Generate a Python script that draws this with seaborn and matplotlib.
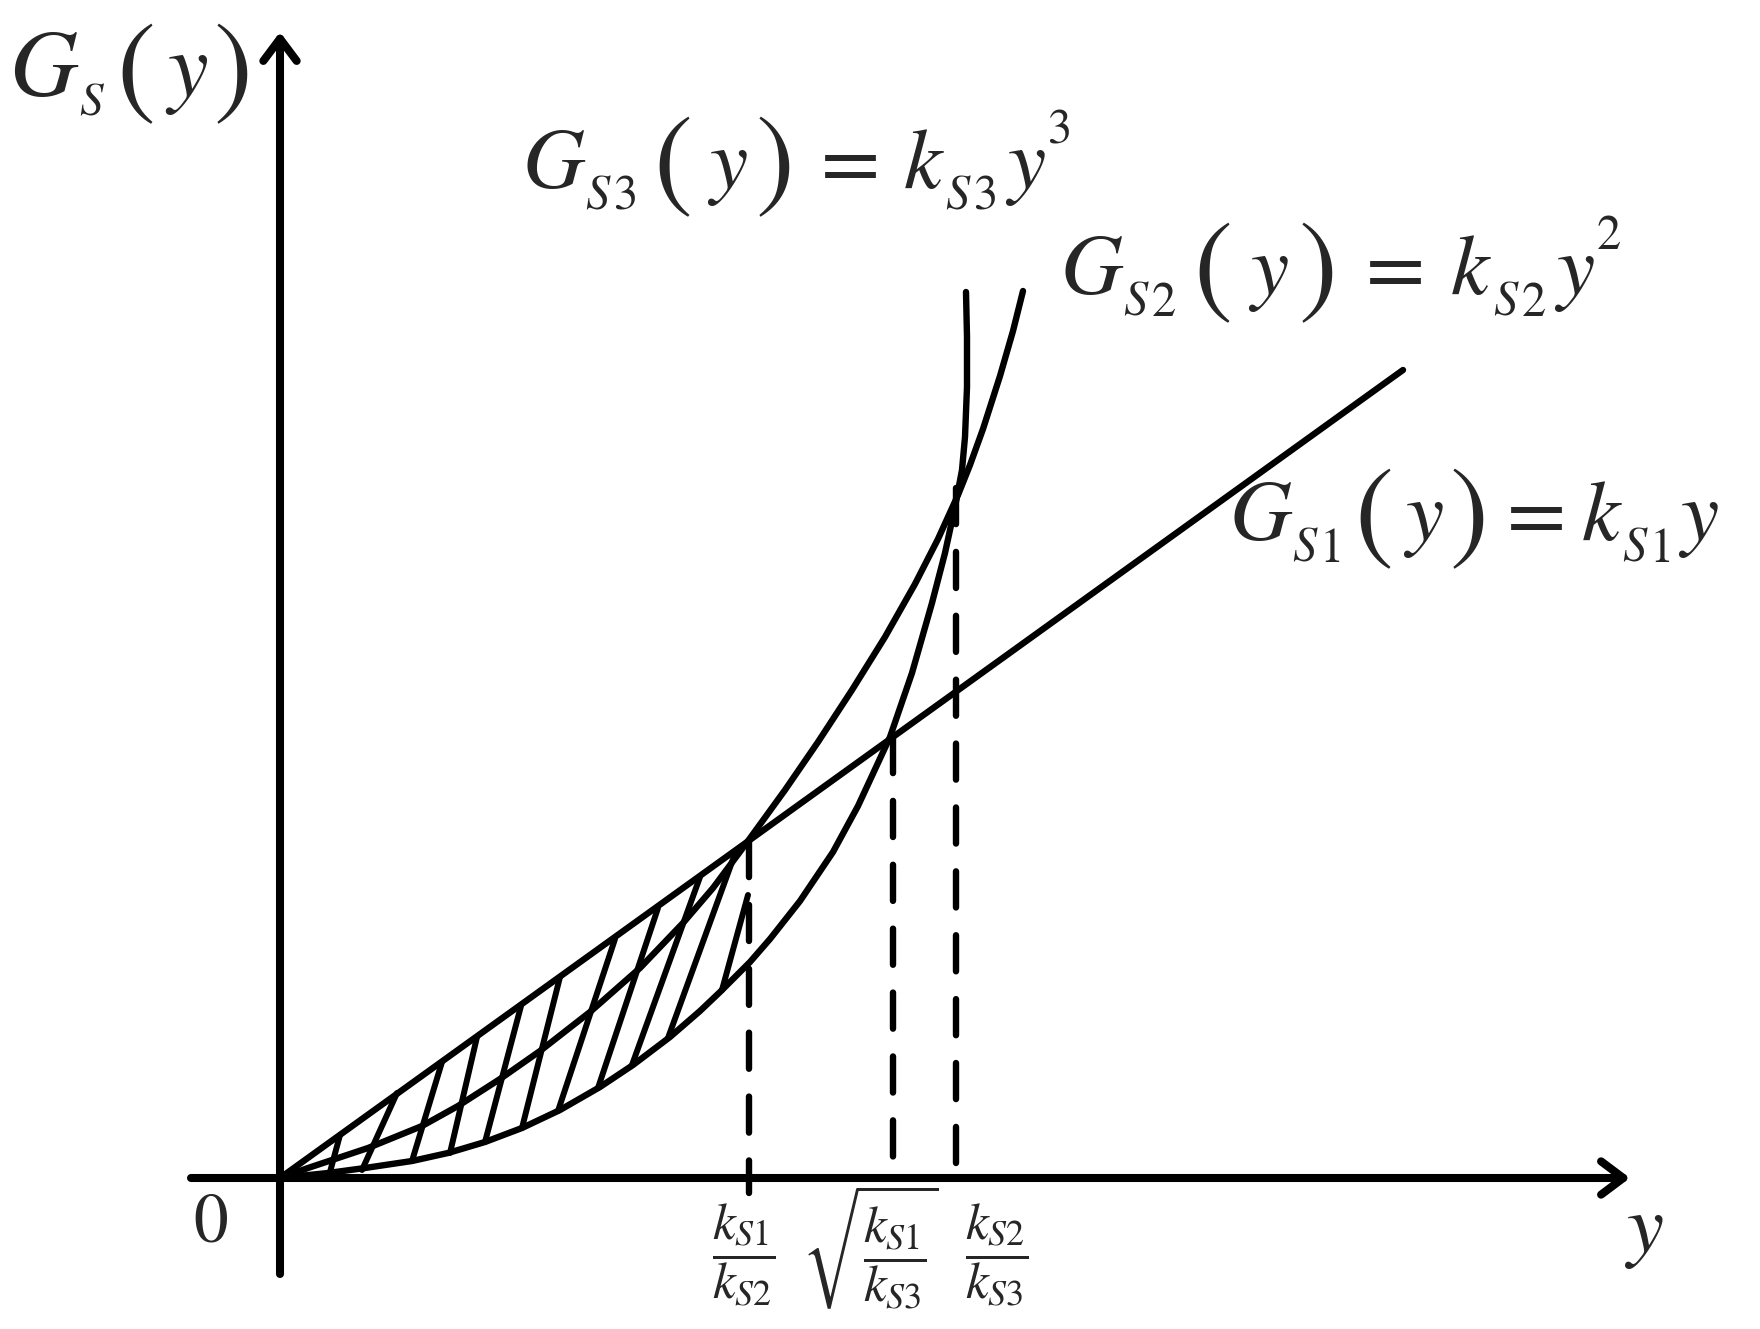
import numpy as np
import pandas as pd
import matplotlib
matplotlib.use("Agg")
import matplotlib.pyplot as plt
import seaborn as sns

# values, in diagram units (origin = 0, G up, y right)
line_x = [0.0, 11.23]
line_g = [0.0, 8.08]

quad_x = [0.0, 0.28, 0.55, 0.88, 1.42, 1.78, 2.20, 2.60, 3.10, 3.60, 4.03, 4.33,
          4.68, 5.05, 5.38, 5.72, 6.05, 6.35, 6.58, 6.78, 6.90, 7.03, 7.20, 7.33, 7.43]
quad_g = [0.0, 0.10, 0.19, 0.30, 0.52, 0.72, 0.99, 1.27, 1.66, 2.10, 2.55, 2.90,
          3.37, 3.88, 4.36, 4.88, 5.41, 5.94, 6.39, 6.83, 7.13, 7.49, 8.02, 8.47, 8.87]

cubic_x = [0.0, 0.48, 0.85, 1.32, 1.68, 2.05, 2.42, 2.80, 3.20, 3.53, 3.90, 4.20, 4.40,
           4.70, 4.90, 5.20, 5.53, 5.78, 6.10, 6.32, 6.52, 6.65, 6.75, 6.82, 6.85, 6.87,
           6.87, 6.86]
cubic_g = [0.0, 0.05, 0.10, 0.17, 0.25, 0.36, 0.50, 0.68, 0.91, 1.13, 1.41, 1.67, 1.86,
           2.16, 2.39, 2.77, 3.26, 3.72, 4.41, 5.05, 5.75, 6.25, 6.71, 7.08, 7.41, 7.91,
           8.41, 8.86]

# hatch strokes: from the cubic up to the straight line
hatch_x0 = [0.50, 0.82, 1.32, 1.70, 2.05, 2.42, 2.78, 3.18, 3.52, 3.88, 4.42]
hatch_g0 = [0.06, 0.08, 0.17, 0.25, 0.36, 0.50, 0.67, 0.90, 1.13, 1.40, 1.88]
hatch_x1 = [0.60, 1.17, 1.62, 1.97, 2.41, 2.80, 3.35, 3.78, 4.20, 4.56, 4.68]
hatch_g1 = [0.43, 0.85, 1.16, 1.41, 1.72, 2.01, 2.39, 2.70, 3.01, 3.27, 2.83]

# crossing points and their labels
cross_x = [4.69, 6.13, 6.76]
cross_top = [3.37, 4.41, 6.90]
cross_bottom = [-0.15, 0.16, 0.07]
cross_labels = [r"$\dfrac{k_{S1}}{k_{S2}}$",
                r"$\sqrt{\dfrac{k_{S1}}{k_{S3}}}$",
                r"$\dfrac{k_{S2}}{k_{S3}}$"]
cross_label_x = [4.64, 5.90, 7.17]
cross_label_y = [-0.77, -0.70, -0.77]


# label pieces: (text, size pt, rise px, gap before px, style)
def curve_label(n, power, tight=1.0):
    p = [("G", 62, 0, 0, "italic"), ("S", 35, -22, 0, "italic"), (n, 35, -22, 4, "normal"),
         ("(", 84, -8, 16, "normal"), ("y", 62, 0, 16, "italic"), (")", 84, -8, 9, "normal"),
         ("=", 62, 0, 26, "normal"), ("k", 62, 0, 24, "italic"), ("S", 35, -22, 3, "italic"),
         (n, 35, -22, 4, "normal"), ("y", 62, 0, 9, "italic")]
    if power:
        p.append((power, 35, 45, 2, "normal"))
    return [(t, s, r, g * tight, st) for t, s, r, g, st in p]


curve_labels = [curve_label("3", "3"), curve_label("2", "2", 1.1), curve_label("1", "", 0.7)]
curve_label_x = [2.43, 7.81, 9.50]
curve_label_y = [9.90, 8.84, 6.38]
axis_label = [("G", 68, 0, 0, "italic"), ("S", 34, -20, 2, "italic"),
              ("(", 84, -7, 14, "normal"), ("y", 66, 0, 11, "italic"),
              (")", 84, -7, 6, "normal")]

sns.set_style("white")
plt.rcParams["mathtext.fontset"] = "stix"
plt.rcParams["font.family"] = ["STIXGeneral", "DejaVu Serif"]
plt.rcParams["lines.scale_dashes"] = False

fig = plt.figure(figsize=(17.6, 13.29), dpi=100)
ax = fig.add_axes([0, 0, 1, 1])
ax.set_xlim(-2.80, 14.80)
ax.set_ylim(-1.51, 11.78)
ax.axis("off")

curves = pd.concat([
    pd.DataFrame({"x": line_x, "g": line_g, "c": "lin"}),
    pd.DataFrame({"x": quad_x, "g": quad_g, "c": "quad"}),
    pd.DataFrame({"x": cubic_x, "g": cubic_g, "c": "cub"}),
])
sns.lineplot(data=curves, x="x", y="g", units="c", estimator=None, sort=False,
             color="black", lw=4.6, solid_capstyle="round", solid_joinstyle="round",
             legend=False, ax=ax)

hatch = pd.DataFrame({
    "x": np.ravel(np.column_stack([hatch_x0, hatch_x1])),
    "g": np.ravel(np.column_stack([hatch_g0, hatch_g1])),
    "seg": np.repeat(np.arange(len(hatch_x0)), 2),
})
sns.lineplot(data=hatch, x="x", y="g", units="seg", estimator=None, sort=False,
             color="black", lw=4.3, solid_capstyle="round", legend=False, ax=ax)

for xc, top, bot in zip(cross_x, cross_top, cross_bottom):
    ax.plot([xc, xc], [top, bot], color="black", lw=4.6,
            linestyle=(0, (26, 20)), dash_capstyle="round")

# axes with open arrow heads
arrow = dict(arrowstyle="->,head_length=0.8,head_width=0.6", lw=5.8, color="black",
             shrinkA=0, shrinkB=0, mutation_scale=20)
ax.annotate("", xy=(13.50, 0), xytext=(-0.89, 0), arrowprops=arrow)
ax.annotate("", xy=(0, 11.46), xytext=(0, -0.96), arrowprops=arrow)

renderer = fig.canvas.get_renderer()


def formula(pieces, x, y):
    # lay the pieces out left to right, each measured after it is placed
    ox = 0.0
    for txt, size, rise, gap, style in pieces:
        ox += gap
        t = ax.annotate(txt, xy=(x, y), xytext=(ox, rise), textcoords="offset pixels",
                        fontsize=size, fontstyle=style, ha="left", va="baseline",
                        annotation_clip=False)
        ox += t.get_window_extent(renderer).width


formula(axis_label, -2.71, 10.82)
for pieces, lx, ly in zip(curve_labels, curve_label_x, curve_label_y):
    formula(pieces, lx, ly)

ax.text(-0.69, -0.47, "0", fontsize=50, ha="center", va="center")
ax.text(13.65, -0.54, "y", fontsize=60, fontstyle="italic", ha="center", va="center")
for lab, lx, ly in zip(cross_labels, cross_label_x, cross_label_y):
    ax.text(lx, ly, lab, fontsize=37, ha="center", va="center")

fig.savefig("out.png", dpi=100, facecolor="white")
